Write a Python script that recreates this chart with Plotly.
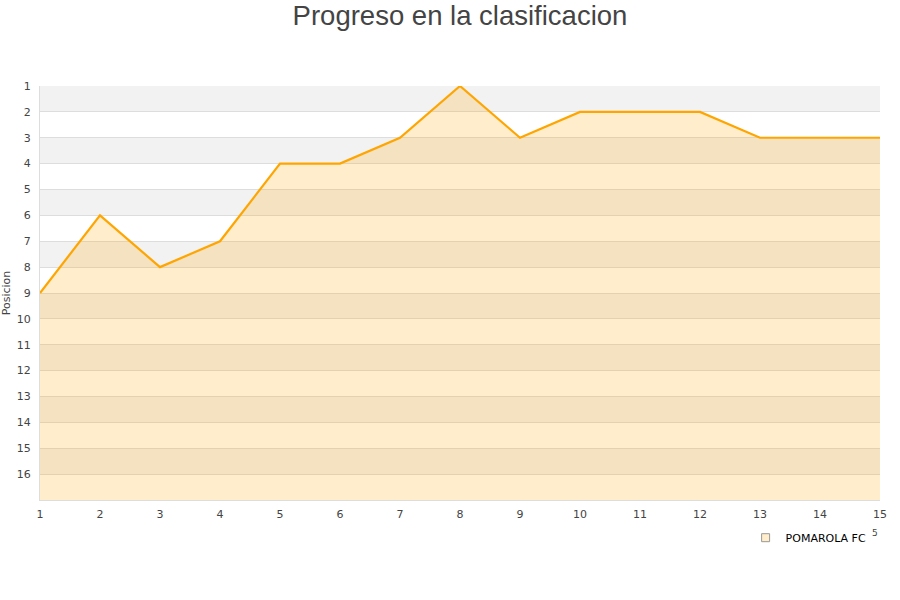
import plotly.graph_objects as go

jornadas = list(range(1, 16))
posiciones = [9, 6, 8, 7, 4, 4, 3, 1, 3, 2, 2, 2, 3, 3, 3]
equipo = "POMAROLA FC"
y_ticks = list(range(1, 17))
fondo = 17

fig = go.Figure()
fig.add_trace(go.Scatter(x=jornadas, y=[fondo] * len(jornadas), mode="lines",
                         line=dict(width=0), showlegend=False, hoverinfo="skip"))
fig.add_trace(go.Scatter(x=jornadas, y=posiciones, mode="lines", name=equipo,
                         fill="tonexty", fillcolor="rgba(255,165,0,0.2)",
                         line=dict(color="#FFA500", width=2.2), showlegend=False))
# legend entry with a square symbol
fig.add_trace(go.Scatter(x=[None], y=[None], mode="markers", name=equipo,
                         marker=dict(symbol="square", size=8, color="rgba(255,165,0,0.2)",
                                     line=dict(color="#999", width=1))))

shapes = []
for k in range(1, fondo, 2):
    shapes.append(dict(type="rect", xref="paper", yref="y", x0=0, x1=1, y0=k, y1=k + 1,
                       fillcolor="#f2f2f2", line=dict(width=0), layer="below"))

fig.update_layout(
    width=900, height=600,
    margin=dict(l=40, r=20, t=86, b=100, autoexpand=False),
    paper_bgcolor="white", plot_bgcolor="white",
    font=dict(family="DejaVu Sans", size=11, color="#444"),
    title=dict(text="Progreso en la clasificacion", x=0.5, xanchor="center",
               xref="paper", y=0.975, yanchor="middle",
               font=dict(family="Liberation Sans, Arial", size=27.5, color="#444")),
    shapes=shapes,
    xaxis=dict(range=[1, 15], tickvals=jornadas, showgrid=False, zeroline=False,
               showline=True, linecolor="#ddd", linewidth=1, ticks="", automargin=False,
               ticklabelstandoff=4,
               tickfont=dict(size=11, color="#444")),
    yaxis=dict(range=[fondo, 1], tickvals=y_ticks, showgrid=True, gridcolor="#ddd",
               zeroline=False, showline=True, linecolor="#ddd", linewidth=1,
               ticks="", ticklabelstandoff=6, automargin=False,
               title=dict(text="Posicion", font=dict(size=11, color="#444"), standoff=3),
               tickfont=dict(size=11, color="#444")),
    legend=dict(x=0.99, y=-0.056, xanchor="right", yanchor="top",
                font=dict(size=11, color="black"), bgcolor="rgba(0,0,0,0)"),
    showlegend=True,
    annotations=[dict(text="5", xref="paper", yref="paper", x=1.0, y=-0.097,
                      showarrow=False, font=dict(size=9, color="#444"))],
)

fig.write_html("out.html", config={"displayModeBar": False},
               post_script="document.body.style.margin='0';")
